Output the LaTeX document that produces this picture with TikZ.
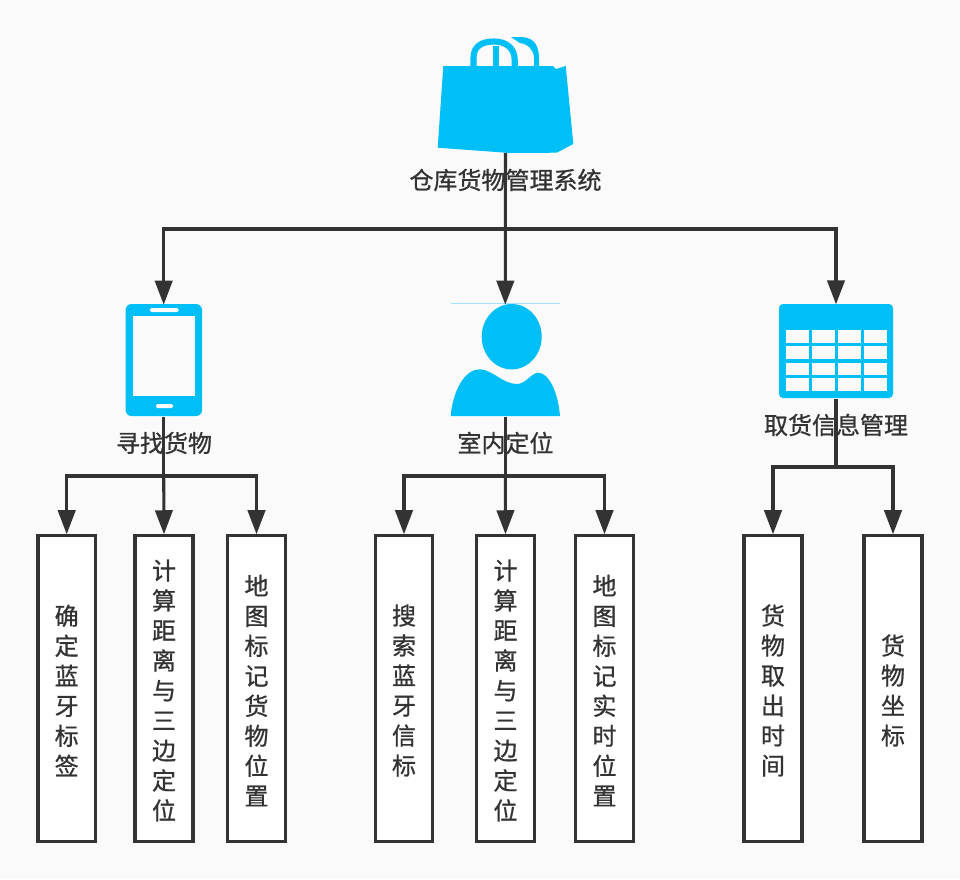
\documentclass[tikz,border=0pt]{standalone}
\usepackage{fontspec}
\newfontfamily\cjk[FakeBold=0.8]{Noto Sans CJK SC}
\usetikzlibrary{arrows.meta}
\definecolor{bg}{HTML}{FAFAFA}
\definecolor{ink}{HTML}{333333}
\definecolor{sky}{HTML}{00BEF6}
\tikzset{
  x=0.75pt,y=-0.75pt,
  label text/.style={font=\cjk\fontsize{18}{22.5}\selectfont,text=ink,inner sep=0pt},
  vbox/.style={draw=ink,fill=white,line width=2.4pt,minimum height=229pt,inner sep=0pt},
  vlabel/.style={label text,align=center},
  icon/.style={inner sep=0pt,outer sep=0pt},
  link/.style={draw=ink,line width=2.3pt},
  arr/.style={link,-{Triangle[length=18pt,width=13pt]}},
}
\begin{document}
\begin{tikzpicture}
\useasboundingbox (0,0) rectangle (960,879);
\fill[bg] (0,0) rectangle (960,879);

% icon anchor nodes
\node[icon,minimum width=102pt,minimum height=86pt] (bag) at (505.5,95.5) {};
\node[icon,minimum width=57.5pt,minimum height=84pt] (phone) at (163.7,360.7) {};
\node[icon,minimum width=82.5pt,minimum height=84pt] (person) at (505.3,360.7) {};
\node[icon,minimum width=85.5pt,minimum height=71pt] (table) at (836,351.7) {};

% bag
\fill[sky] (443.3,66) -- (552.7,66) -- (556,69) -- (565.7,66) -- (573.3,144) -- (556.7,152.7)
  -- (510,153) -- (437.7,147.7) -- cycle;
\draw[sky,line width=4.6pt] (473.5,67) -- (473.5,58) .. controls (473.5,46) and (482,41.5) .. (494,41.5)
  .. controls (506,41.5) and (514.7,48) .. (514.7,60) -- (514.7,67);
\fill[sky] (511,37) -- (522,37) .. controls (535,38) and (539,46) .. (539,60) -- (539,67) -- (534,67) -- (534,58)
  .. controls (534,50) and (528,44) .. (520,43) -- cycle;
\draw[sky,line width=4.5pt] (496,46) -- (496,67);

% phone
\fill[sky,rounded corners=4.5pt] (125.5,304) rectangle (202,416);
\fill[bg] (133.3,315.7) rectangle (194.7,396);
\fill[bg,rounded corners=1pt] (150,308) rectangle (178.5,312);
\fill[bg,rounded corners=1pt] (156,404) rectangle (173,408);

% person
\draw[sky!35!bg,line width=0.75pt] (450.5,303.7) -- (560,303.7);
\fill[sky] (511.7,336.7) ellipse [x radius=30,y radius=32.7];
\fill[sky] (450.7,416) .. controls (453,390) and (465,369) .. (480,369.3)
  .. controls (492,369.5) and (503,384) .. (516.7,384)
  .. controls (526,384) and (531,373) .. (538.3,372.7)
  .. controls (549,373) and (558,392) .. (560,416) -- cycle;

% table
\fill[sky,rounded corners=3pt] (779,304) rectangle (893,398);
\foreach \cx in {785.5,811.5,837.5,863.5}
  \foreach \cy in {330,346,362.5,378}
    \fill[bg] (\cx,\cy) rectangle (\cx+23,\cy+12.5);

% labels
\node[label text] (rootlabel) at (505.5,180) {仓库货物管理系统};
\node[label text] (findlabel) at (164,443) {寻找货物};
\node[label text] (indoorlabel) at (505.5,443) {室内定位};
\node[label text] (pickuplabel) at (836,425) {取货信息管理};

% boxes
\node[vbox,minimum width=43pt] (b1) at (66.7,688.5) {};
\node[vbox,minimum width=43.5pt] (b2) at (164,688.5) {};
\node[vbox,minimum width=43.5pt] (b3) at (256.5,688.5) {};
\node[vbox,minimum width=42.5pt] (b4) at (404,688.5) {};
\node[vbox,minimum width=43.5pt] (b5) at (505.5,688.5) {};
\node[vbox,minimum width=43.5pt] (b6) at (604.5,688.5) {};
\node[vbox,minimum width=43.5pt] (b7) at (773,688.5) {};
\node[vbox,minimum width=43.5pt] (b8) at (893,688.5) {};
\node[vlabel] (t1) at ([yshift=-1.5pt]b1.center) {确\\定\\蓝\\牙\\标\\签};
\node[vlabel] (t2) at ([yshift=-1.5pt]b2.center) {计\\算\\距\\离\\与\\三\\边\\定\\位};
\node[vlabel] (t3) at ([yshift=-1.5pt]b3.center) {地\\图\\标\\记\\货\\物\\位\\置};
\node[vlabel] (t4) at ([yshift=-1.5pt]b4.center) {搜\\索\\蓝\\牙\\信\\标};
\node[vlabel] (t5) at ([yshift=-1.5pt]b5.center) {计\\算\\距\\离\\与\\三\\边\\定\\位};
\node[vlabel] (t6) at ([yshift=-1.5pt]b6.center) {地\\图\\标\\记\\实\\时\\位\\置};
\node[vlabel] (t7) at ([yshift=-1.5pt]b7.center) {货\\物\\取\\出\\时\\间};
\node[vlabel] (t8) at ([yshift=-1.5pt]b8.center) {货\\物\\坐\\标};

% connectors
\coordinate (top) at (505.5,229);
\coordinate (f1) at (163.7,476);
\coordinate (f2) at (505.3,476);
\coordinate (f3) at (836,467);
\draw[arr] (bag.south) -- (person.north);
\draw[arr] (top) -| (phone.north);
\draw[arr] (top) -| (table.north);
\draw[link] (phone.south) -- (f1);
\draw[arr] (f1) -- (b2.north);
\draw[arr] (f1) -| (b1.north);
\draw[arr] (f1) -| (b3.north);
\draw[link] (person.south) -- (f2);
\draw[arr] (f2) -- (b5.north);
\draw[arr] (f2) -| (b4.north);
\draw[arr] (f2) -| (b6.north);
\draw[link] (table.south) -- (f3);
\draw[arr] (f3) -| (b7.north);
\draw[arr] (f3) -| (b8.north);
\end{tikzpicture}
\end{document}
